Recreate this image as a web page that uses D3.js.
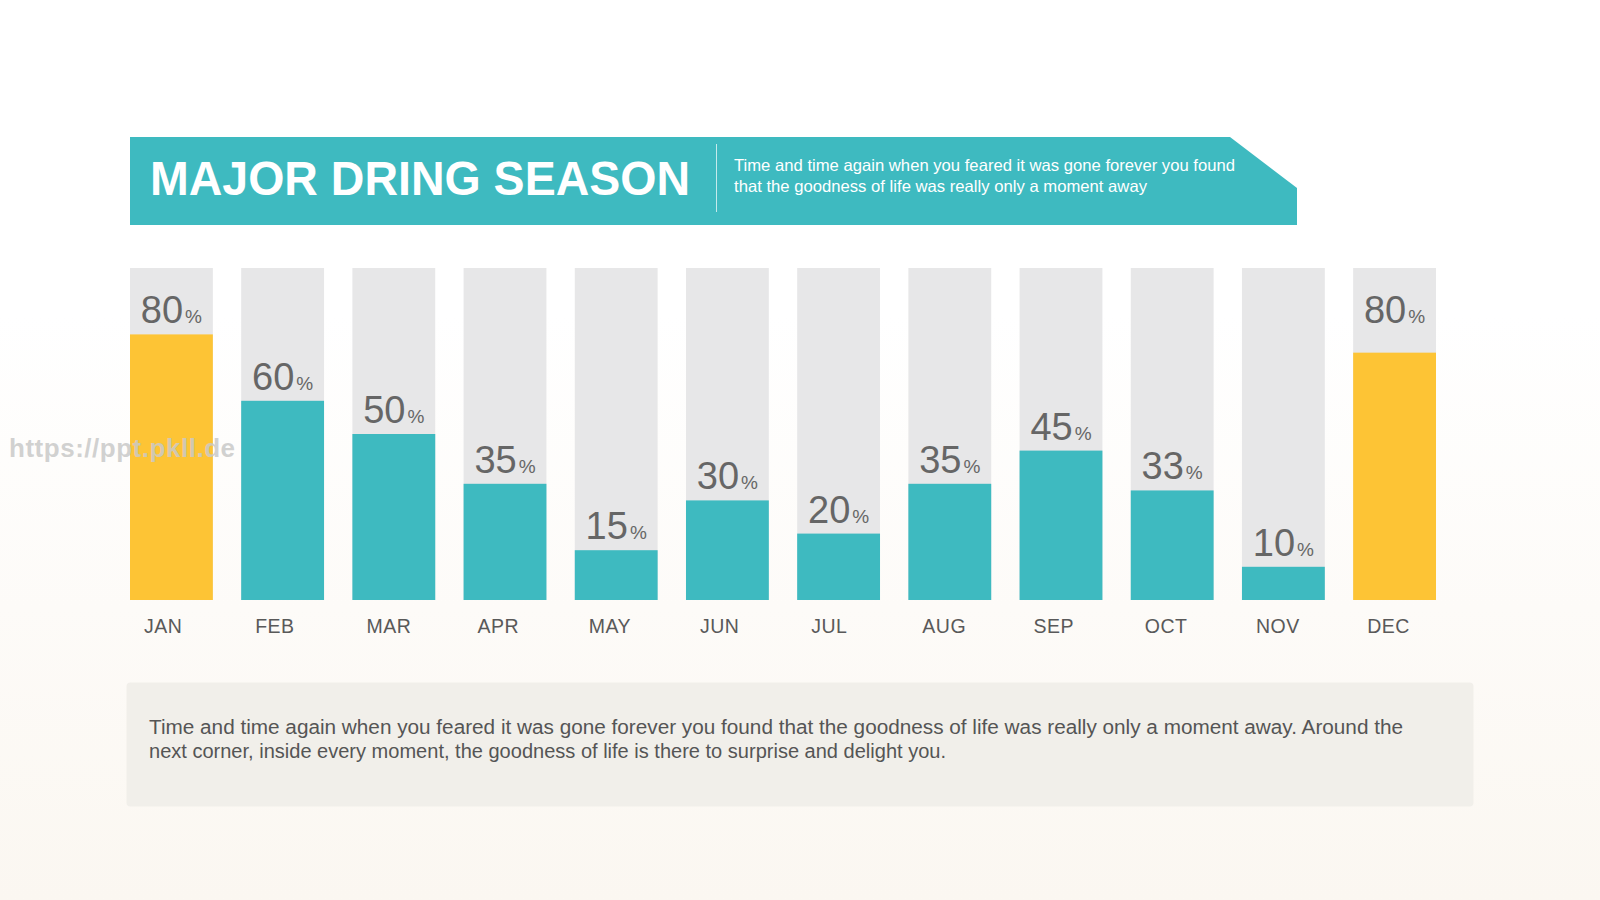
<!DOCTYPE html>
<html>
<head>
<meta charset="utf-8">
<script src="https://cdn.jsdelivr.net/npm/d3@7"></script>
<style>
    html, body { margin: 0; padding: 0; background: #ffffff; }
    svg { display: block; font-family: "Liberation Sans", Arial, sans-serif; }
</style>
</head>
<body>
<div id="chart"></div>
<script>
// chart data
var months = ["JAN", "FEB", "MAR", "APR", "MAY", "JUN", "JUL", "AUG", "SEP", "OCT", "NOV", "DEC"];
var percentLabels = [80, 60, 50, 35, 15, 30, 20, 35, 45, 33, 10, 80];
// filled height of each column as drawn (DEC is drawn a bit short of its label)
var fillLevels = [80, 60, 50, 35, 15, 30, 20, 35, 45, 33, 10, 74.5];
var highlighted = ["JAN", "DEC"];

var titleText = "MAJOR DRING SEASON";
var subtitleLines = [
    "Time and time again when you feared it was gone forever you found",
    "that the goodness of life was really only a moment away"
];
var noteLines = [
    "Time and time again when you feared it was gone forever you found that the goodness of life was really only a moment away. Around the",
    "next corner, inside every moment, the goodness of life is there to surprise and delight you."
];
var watermark = "https://ppt.pkll.de";

function init() {
    var w = 1600;
    var h = 900;

    var teal = "#3ebac0";
    var gold = "#fdc435";
    var track = "#e7e7e8";

    var svg = d3.select("#chart")
        .append("svg")
        .attr("width", w)
        .attr("height", h);

    // soft warm background
    var defs = svg.append("defs");
    var grad = defs.append("linearGradient")
        .attr("id", "bg")
        .attr("x1", 0).attr("y1", 0)
        .attr("x2", 0).attr("y2", 1);
    grad.append("stop").attr("offset", "0%").attr("stop-color", "#ffffff");
    grad.append("stop").attr("offset", "35%").attr("stop-color", "#ffffff");
    grad.append("stop").attr("offset", "100%").attr("stop-color", "#fbf7f1");

    svg.append("rect")
        .attr("width", w)
        .attr("height", h)
        .attr("fill", "url(#bg)");

    // header banner with clipped top-right corner
    svg.append("path")
        .attr("d", "M130,137 L1230,137 L1297,188 L1297,225 L130,225 Z")
        .attr("fill", teal);

    svg.append("text")
        .attr("x", 150)
        .attr("y", 195)
        .attr("fill", "#ffffff")
        .style("font-size", "48px")
        .style("font-weight", "bold")
        .attr("textLength", 540)
        .attr("lengthAdjust", "spacingAndGlyphs")
        .text(titleText);

    svg.append("line")
        .attr("x1", 716.5).attr("x2", 716.5)
        .attr("y1", 144).attr("y2", 212)
        .attr("stroke", "#ffffff")
        .attr("stroke-opacity", 0.7)
        .attr("stroke-width", 1);

    svg.selectAll(".subtitle")
        .data(subtitleLines)
        .enter()
        .append("text")
        .attr("class", "subtitle")
        .attr("x", 734)
        .attr("y", function (d, i) { return 171 + i * 20.5; })
        .attr("fill", "#ffffff")
        .style("font-size", "16.5px")
        .attr("textLength", function (d, i) { return i === 0 ? 501 : 413; })
        .attr("lengthAdjust", "spacingAndGlyphs")
        .text(function (d) { return d; });

    // scales
    var xScale = d3.scaleBand()
        .domain(months)
        .range([130, 1436])
        .paddingInner(0.255)
        .paddingOuter(0);

    var yScale = d3.scaleLinear()
        .domain([0, 100])
        .range([600, 268]);

    var rows = months.map(function (m, i) {
        return { month: m, label: percentLabels[i], level: fillLevels[i] };
    });

    // grey tracks
    svg.selectAll(".track")
        .data(rows)
        .enter()
        .append("rect")
        .attr("class", "track")
        .attr("x", function (d) { return xScale(d.month); })
        .attr("y", yScale(100))
        .attr("width", xScale.bandwidth())
        .attr("height", yScale(0) - yScale(100))
        .attr("fill", track);

    // filled part
    svg.selectAll(".bar")
        .data(rows)
        .enter()
        .append("rect")
        .attr("class", "bar")
        .attr("x", function (d) { return xScale(d.month); })
        .attr("y", function (d) { return yScale(d.level); })
        .attr("width", xScale.bandwidth())
        .attr("height", function (d) { return yScale(0) - yScale(d.level); })
        .attr("fill", function (d) {
            return highlighted.indexOf(d.month) >= 0 ? gold : teal;
        });

    // value labels
    var vals = svg.selectAll(".val")
        .data(rows)
        .enter()
        .append("text")
        .attr("class", "val")
        .attr("x", function (d) { return xScale(d.month) + xScale.bandwidth() / 2; })
        .attr("y", function (d) { return yScale(d.label) - 11; })
        .attr("text-anchor", "middle")
        .attr("fill", "#666666");
    vals.append("tspan")
        .style("font-size", "38px")
        .text(function (d) { return d.label; });
    vals.append("tspan")
        .style("font-size", "19px")
        .attr("dx", 2)
        .text("%");

    // month labels
    svg.selectAll(".month")
        .data(rows)
        .enter()
        .append("text")
        .attr("class", "month")
        .attr("x", function (d) { return xScale(d.month) + 14; })
        .attr("y", 633)
        .attr("fill", "#595959")
        .style("font-size", "19.5px")
        .style("letter-spacing", "0.5px")
        .text(function (d) { return d.month; });

    // note box
    svg.append("rect")
        .attr("x", 126.5)
        .attr("y", 682.5)
        .attr("width", 1347)
        .attr("height", 124)
        .attr("rx", 4)
        .attr("fill", "#f1efea");

    svg.selectAll(".note")
        .data(noteLines)
        .enter()
        .append("text")
        .attr("class", "note")
        .attr("x", 149)
        .attr("y", function (d, i) { return 734 + i * 23.5; })
        .attr("fill", "#555555")
        .style("font-size", "20px")
        .attr("textLength", function (d, i) { return i === 0 ? 1254 : 797; })
        .attr("lengthAdjust", "spacingAndGlyphs")
        .text(function (d) { return d; });

    // watermark
    svg.append("text")
        .attr("x", 9)
        .attr("y", 457)
        .attr("fill", "#c9c9c9")
        .attr("fill-opacity", 0.85)
        .style("font-size", "26px")
        .style("font-weight", "bold")
        .attr("textLength", 226)
        .attr("lengthAdjust", "spacing")
        .text(watermark);
}

window.onload = init;
</script>
</body>
</html>
